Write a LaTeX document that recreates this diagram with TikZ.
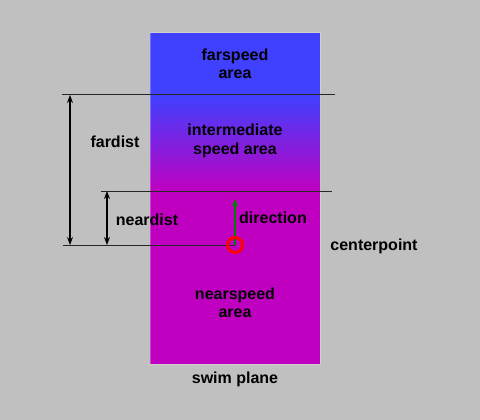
\documentclass[tikz,border=0pt]{standalone}
\usepackage{fontspec}
\setmainfont{Liberation Sans}
\usetikzlibrary{arrows.meta,positioning}
\definecolor{bggray}{RGB}{192,192,192}
\definecolor{farblue}{RGB}{64,64,255}
\definecolor{nearmag}{RGB}{192,0,192}
\definecolor{dirgreen}{RGB}{0,128,0}
\tikzset{>=Stealth}

\begin{document}
\begin{tikzpicture}[x=1pt, y=-1pt,
    every node/.style={font=\fontsize{16}{18.5}\selectfont\bfseries, align=center, inner sep=0pt},
    guide/.style={draw=black!85, line width=1pt},
    dim/.style={draw=black, line width=1.3pt, {Stealth[length=8pt,width=6pt]}-{Stealth[length=8pt,width=6pt]}},
    center/.style={circle, draw=red, line width=3pt, minimum size=15pt}]
  \fill[bggray] (0,0) rectangle (480,420);
  \useasboundingbox (0,0) rectangle (480,420);
  %% swim plane
  \fill[farblue] (150,33) rectangle (320,95);
  \shade[top color=farblue, bottom color=nearmag] (150,95) rectangle (320,191);
  \fill[nearmag] (150,191) rectangle (320,364);
  \draw[white, opacity=0.25, line width=1pt] (150,33) rectangle (320,364);
  \node (farspeed) at (235,64) {farspeed\\area};
  \node (interspeed) at (235,141) {intermediate\\speed area};
  \node (nearspeed) at (235,303) {nearspeed\\area};
  \node (swim) at (235,379) {swim plane};
  %% guide lines
  \coordinate (farL) at (62,95);
  \coordinate (farR) at (335,95);
  \coordinate (nearL) at (101,191);
  \coordinate (nearR) at (332,191);
  \coordinate (centerL) at (63,245);
  \coordinate (cpt) at (235,245);
  \path [guide] (farL) -- (farR);
  \path [guide] (nearL) -- (nearR);
  \path [guide] (centerL) -- (cpt);
  %% distances
  \coordinate (fardistT) at (70,95);
  \coordinate (fardistB) at (70,245);
  \coordinate (neardistT) at (107,191);
  \coordinate (neardistB) at (107,245);
  \path [dim] (fardistT) -- (fardistB);
  \path [dim] (neardistT) -- (neardistB);
  \node (fardist) at (115,142) {fardist};
  \node (neardist) at (147,220) {neardist};
  %% center point and direction
  \coordinate (dirtip) at (235,199);
  \draw [dirgreen, line width=1.3pt, -{Stealth[length=8pt,width=6pt]}] (cpt) -- (dirtip);
  \node [center] (cp) at (cpt) {};
  \node (direction) at (273,218) {direction};
  \node (centerpoint) at (374,246) {centerpoint};
\end{tikzpicture}
\end{document}
